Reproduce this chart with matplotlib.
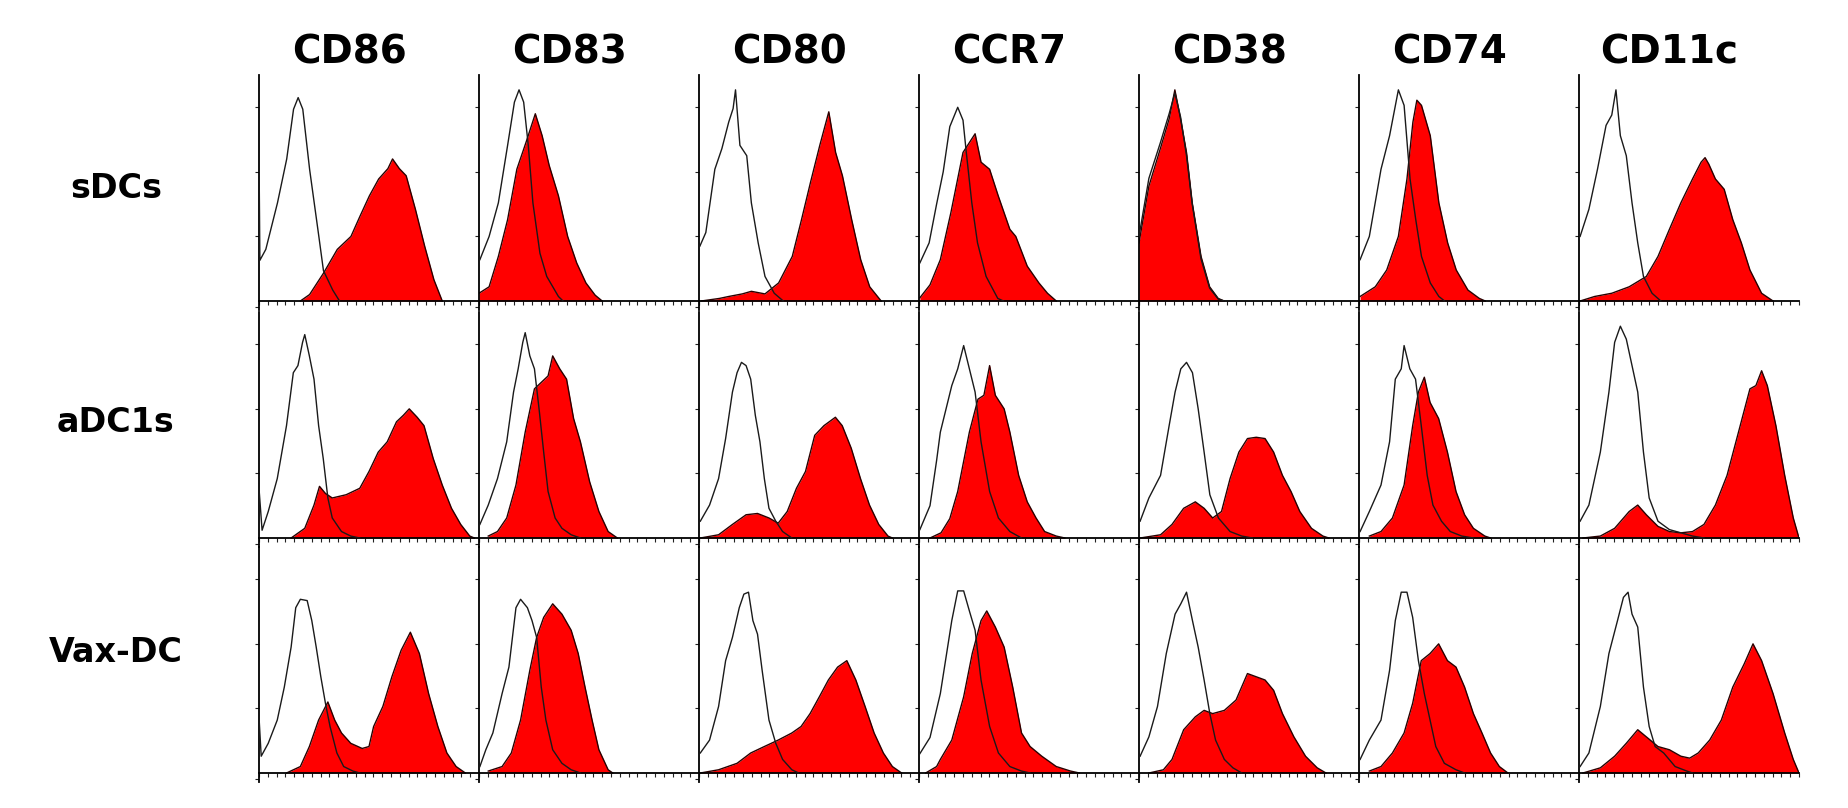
import numpy as np
import matplotlib
matplotlib.use("Agg")
from matplotlib import pyplot as plt

markers = ["CD86", "CD83", "CD80", "CCR7", "CD38", "CD74", "CD11c"]
cell_types = ["sDCs", "aDC1s", "Vax-DC"]

# each curve: (channel %, count) points
sdcs_isotype = [
    [(0, 229), (0.4, 63), (3.1, 80), (8.4, 152), (12.6, 220), (15.7, 297), (17.8, 315), (19.9, 297), (23, 204), (25.1, 152), (27.2, 100), (29.3, 47), (33.5, 17), (36.6, 0)],
    [(0.4, 64), (4.6, 100), (8.8, 152), (13, 241), (16.1, 308), (18.2, 327), (20.3, 308), (22.4, 241), (24.5, 152), (27.7, 74), (30.8, 38), (36.1, 7), (38.2, 0)],
    [(0.4, 85), (3.1, 106), (7.2, 204), (10.4, 236), (13.5, 277), (15.5, 298), (16.6, 327), (18.6, 241), (21.7, 225), (23.8, 152), (26.9, 90), (30, 38), (34.2, 12), (38.3, 0)],
    [(0.4, 59), (4.6, 90), (8, 150), (11, 200), (14, 270), (17.6, 300), (20, 280), (21.5, 230), (24, 152), (26.6, 90), (30.5, 38), (35.8, 4), (38.4, 0)],
    [(0, 100), (4.5, 190), (9.7, 245), (13.7, 290), (16.3, 322), (18.9, 285), (21.6, 225), (24.2, 150), (28.2, 65), (32.1, 20), (36, 3), (38.7, 0)],
    [(0.5, 64), (4.7, 100), (10, 204), (13.9, 256), (17.9, 327), (20.5, 303), (23.2, 189), (25.8, 126), (28.4, 69), (32.4, 28), (36.3, 7), (38.9, 0)],
    [(0.5, 100), (4.5, 142), (8.4, 204), (12.3, 272), (14.9, 288), (16.8, 327), (18.8, 256), (21.5, 225), (24.1, 152), (26.7, 90), (29.3, 38), (33.2, 12), (37.2, 0)],
]
sdcs_stained = [
    [(18.8, 0), (23, 10), (29.3, 43), (35.6, 80), (41.8, 100), (46, 132), (50.2, 163), (54.4, 189), (58.6, 205), (60.7, 220), (63.8, 205), (66.9, 194), (71.1, 142), (75.3, 85), (79.5, 33), (83.3, 0)],
    [(0, 12), (4.6, 22), (8.8, 69), (13, 126), (17.2, 204), (21.4, 246), (25.6, 290), (28.7, 256), (31.9, 210), (36.1, 163), (40.3, 100), (44.4, 59), (48.6, 28), (52.8, 9), (56, 0)],
    [(1, 0), (9.3, 4), (13.5, 7), (19.7, 11), (23.8, 15), (30, 11), (36.2, 28), (42.4, 69), (46.6, 126), (50.7, 184), (54.9, 241), (59, 293), (62.1, 230), (65.2, 194), (69.4, 126), (73.5, 64), (77.6, 22), (82.8, 0)],
    [(0.4, 5), (5, 25), (9.7, 64), (14.5, 137), (20, 230), (25.5, 259), (28.2, 215), (32.1, 204), (36, 163), (41.3, 111), (44, 100), (49.2, 54), (54.5, 28), (58.4, 12), (62.4, 0)],
    [(0, 90), (4.5, 178), (9.7, 236), (13.7, 282), (16.3, 327), (18.9, 282), (21.6, 230), (24.2, 152), (28.2, 69), (32.1, 22), (36, 4), (38.7, 0)],
    [(0.5, 7), (7.4, 22), (12.6, 48), (17.9, 100), (21.8, 189), (24.5, 277), (26.3, 311), (28.4, 303), (32.4, 256), (36.3, 152), (40.3, 90), (44.2, 48), (49.5, 17), (54.7, 4), (57.4, 0)],
    [(0.5, 0), (7.1, 7), (14.9, 12), (22.8, 22), (30.6, 38), (35.9, 69), (41.1, 111), (46.3, 152), (51.6, 189), (55.5, 215), (57.3, 222), (59, 212), (62, 189), (66, 173), (69.9, 126), (73.8, 90), (77.7, 48), (83, 12), (88.2, 0)],
]

adc1s_isotype = [
    [(0, 77), (1.4, 12), (4.2, 41), (8.3, 92), (12.5, 174), (15.6, 256), (17.7, 267), (19.8, 303), (20.8, 315), (22.9, 282), (25, 246), (27.1, 174), (29.2, 123), (31.3, 62), (33.3, 31), (37.5, 10), (41.7, 3), (45.8, 0)],
    [(0.4, 21), (4.2, 51), (8.4, 92), (12.6, 149), (15.7, 226), (17.8, 262), (19.9, 303), (21, 318), (23.1, 282), (25.2, 262), (27.3, 200), (29.4, 133), (31.4, 72), (34.6, 31), (37.7, 15), (41.9, 5), (46.1, 0)],
    [(0.6, 26), (4.8, 51), (8.9, 92), (12.1, 154), (15.2, 226), (17.3, 256), (19.3, 272), (21.4, 267), (23.5, 246), (25.6, 190), (27.7, 149), (29.7, 92), (31.8, 46), (34.9, 26), (38, 10), (42.2, 0)],
    [(0.4, 13), (5, 50), (8, 120), (9.7, 164), (14.9, 236), (17.6, 262), (20.3, 298), (22.9, 262), (25.5, 226), (28.2, 149), (32.1, 72), (36.1, 31), (41.3, 10), (46.6, 0)],
    [(0.5, 26), (4.5, 62), (9.8, 97), (13.7, 174), (16.4, 226), (19, 262), (21.6, 272), (24.3, 256), (26.9, 200), (29.6, 133), (32.2, 67), (36.1, 31), (41.4, 10), (46.7, 3), (51.5, 0)],
    [(0.5, 10), (4.7, 41), (10, 82), (13.9, 149), (16.5, 246), (19.2, 262), (20.5, 298), (23.1, 262), (25.7, 246), (28.3, 174), (31, 97), (33.6, 51), (37.5, 26), (41.5, 10), (46.7, 3), (52, 0)],
    [(0.5, 26), (4.5, 51), (9.7, 133), (13.6, 226), (16.2, 303), (18.8, 328), (21.5, 308), (24.1, 267), (26.7, 226), (29.3, 133), (31.9, 62), (35.9, 26), (41.1, 13), (46.3, 8), (51.6, 3), (56.8, 0)],
]
adc1s_stained = [
    [(14.6, 0), (20.8, 15), (25, 51), (27.5, 80), (30.2, 69), (33.3, 62), (39.6, 67), (45.8, 77), (50, 103), (54.2, 133), (58.3, 149), (62.5, 180), (65.6, 190), (68.3, 200), (71.9, 187), (75, 174), (79.2, 123), (83.3, 82), (87.5, 46), (91.7, 21), (95.8, 3), (97.9, 0)],
    [(4.2, 3), (8.4, 10), (12.6, 31), (16.8, 82), (21, 164), (25.2, 231), (28.3, 241), (31.4, 251), (33.5, 282), (36.7, 262), (39.8, 246), (43, 185), (46.1, 149), (50.3, 87), (54.5, 41), (58.7, 10), (62.9, 0)],
    [(0.6, 0), (8.9, 5), (15.2, 21), (21.4, 36), (26.6, 38), (31.8, 31), (36, 23), (40.1, 41), (44.3, 77), (48.4, 103), (52.6, 159), (56.8, 174), (62, 187), (65.1, 174), (69.2, 139), (73.4, 92), (77.5, 51), (81.7, 21), (85.9, 3), (87.9, 0)],
    [(5, 0), (10, 8), (14, 30), (17.6, 72), (22.9, 164), (26.8, 215), (29.5, 221), (32.1, 267), (34.7, 221), (38.7, 200), (41.3, 164), (45.3, 97), (49.2, 56), (53.2, 31), (57.1, 10), (62.4, 3), (66.3, 0)],
    [(0.5, 0), (9.8, 5), (15, 21), (20.3, 46), (25.6, 56), (29.6, 46), (33.5, 31), (37.5, 41), (41.4, 92), (45.4, 133), (49.3, 154), (53.3, 156), (57.3, 154), (61.2, 133), (65.2, 97), (69.1, 72), (73.1, 41), (78.4, 15), (83.6, 3), (86.3, 0)],
    [(4.7, 3), (10, 10), (15.2, 31), (20.5, 82), (24.4, 174), (27, 226), (29.7, 249), (32.3, 210), (36.2, 185), (40.2, 133), (44.1, 72), (48, 36), (52, 15), (57.2, 3), (59.8, 0)],
    [(1.8, 0), (9.7, 3), (16.2, 15), (22.8, 41), (26.7, 51), (30.6, 36), (35.9, 18), (41.1, 10), (46.3, 8), (51.6, 10), (56.8, 21), (62, 51), (67.3, 97), (72.5, 164), (77.7, 231), (80.4, 236), (83, 259), (85.6, 236), (89.5, 174), (93.5, 97), (97.4, 31), (100, 0)],
]

vaxdc_isotype = [
    [(0, 87), (1, 26), (4.2, 46), (8.3, 82), (11.5, 133), (14.6, 195), (16.7, 256), (18.8, 269), (21.9, 267), (24, 236), (26, 195), (28.1, 149), (30.2, 108), (32.3, 72), (35.4, 31), (38.5, 10), (42.7, 3), (45.8, 0)],
    [(0.4, 10), (3.1, 36), (6.3, 62), (10.5, 123), (13.6, 164), (16.8, 256), (18.9, 269), (22, 256), (24.1, 236), (26.2, 210), (28.3, 133), (30.4, 82), (33.5, 36), (37.7, 15), (41.9, 5), (46.1, 0)],
    [(0.6, 31), (4.8, 51), (8.9, 103), (12.1, 174), (15.2, 210), (18.3, 256), (20.4, 277), (22.5, 280), (24.5, 236), (26.6, 215), (28.7, 159), (31.8, 82), (34.9, 46), (38, 21), (42.2, 5), (45.3, 0)],
    [(0.4, 30), (5, 55), (9.7, 123), (14.9, 236), (17.6, 282), (20.3, 282), (22.9, 251), (25.5, 221), (28.2, 144), (32.1, 72), (36.1, 31), (41.3, 10), (46.6, 3), (50.5, 0)],
    [(0.5, 26), (4.5, 56), (8.4, 103), (12.4, 185), (16.4, 246), (19, 262), (21.6, 280), (24.3, 236), (26.9, 195), (29.6, 144), (32.2, 92), (34.8, 51), (38.8, 21), (42.7, 8), (46.7, 0)],
    [(0.5, 21), (4.7, 51), (10, 82), (13.9, 159), (16.5, 236), (19.2, 280), (21.8, 280), (24.4, 241), (27, 174), (29.7, 123), (32.3, 82), (34.9, 41), (38.8, 15), (44.1, 5), (48, 0)],
    [(0.5, 10), (4.5, 31), (9.7, 103), (13.6, 185), (17.5, 236), (20.2, 272), (22.3, 280), (24.1, 246), (26.7, 226), (29.3, 133), (31.9, 72), (34.6, 41), (38.5, 31), (43.7, 10), (49, 3), (51.6, 0)],
]
vaxdc_stained = [
    [(12.5, 0), (18.8, 10), (22.9, 41), (27.1, 82), (31.3, 110), (34.4, 82), (37.5, 62), (41.7, 46), (46.9, 38), (50, 41), (52.1, 72), (56.3, 103), (60.4, 149), (64.6, 190), (68.8, 218), (72.9, 185), (77.1, 123), (81.3, 72), (85.4, 31), (89.6, 10), (93.8, 0)],
    [(4.2, 3), (10.5, 10), (14.7, 31), (18.9, 82), (23.1, 159), (26.2, 210), (29.4, 241), (33.5, 262), (37.7, 246), (41.9, 221), (45.1, 185), (48.2, 133), (51.4, 82), (54.5, 36), (58.7, 5), (60.8, 0)],
    [(0.6, 0), (8.9, 5), (17.3, 15), (23.5, 31), (29.7, 41), (36, 51), (42.2, 62), (46.4, 72), (50.5, 92), (54.7, 118), (58.8, 144), (63, 164), (67.2, 174), (71.3, 144), (75.5, 103), (79.6, 62), (83.8, 31), (87.9, 10), (92.1, 0)],
    [(3, 0), (8, 10), (9.7, 21), (14.9, 51), (20.3, 118), (24.2, 185), (28.2, 236), (30.8, 251), (34.7, 226), (38.7, 195), (42.6, 133), (46.6, 62), (50.5, 41), (55.8, 26), (62.4, 10), (68.9, 3), (72.9, 0)],
    [(4.5, 0), (11.1, 5), (15, 21), (20.3, 67), (25.6, 87), (29.6, 97), (33.5, 92), (38.8, 97), (44.1, 113), (49.3, 154), (53.3, 149), (57.3, 144), (61.2, 128), (65.2, 92), (70.4, 56), (75.7, 26), (81, 8), (85, 0)],
    [(4.7, 3), (10, 10), (15.2, 31), (20.5, 62), (24.4, 108), (28.3, 174), (32.3, 185), (36.2, 200), (40.2, 174), (44.1, 164), (48, 133), (52, 92), (55.9, 62), (59.8, 31), (63.8, 10), (67.7, 0)],
    [(1.8, 0), (9.7, 8), (16.2, 26), (21.5, 46), (26.7, 67), (30.6, 56), (35.9, 41), (41.1, 36), (46.3, 26), (50.3, 23), (54.2, 31), (59.4, 51), (64.7, 82), (69.9, 133), (75.1, 169), (79.1, 200), (83, 174), (88.2, 123), (93.5, 62), (97.4, 21), (100, 0)],
]

rows = [
    (sdcs_isotype, sdcs_stained),
    (adc1s_isotype, adc1s_stained),
    (vaxdc_isotype, vaxdc_stained),
]

W, H = 1848, 808
fig = plt.figure(figsize=(W / 100, H / 100), dpi=100)

panel_left = 259      # px, left spine of first column
panel_w = 220         # px
panel_h = 226         # px, baseline to top of spine
row_base = [301, 538, 773]
label_y = [189, 422, 652]
y_top = 350
y_low = -14
pad = panel_h * (-y_low) / y_top

for r, (iso_row, red_row) in enumerate(rows):
    for c, marker in enumerate(markers):
        left = panel_left + c * panel_w
        ax = fig.add_axes([left / W, (H - row_base[r] - pad) / H,
                           panel_w / W, (panel_h + pad) / H])

        rx, ry = np.array(red_row[c]).T
        ax.fill_between(rx, ry, 0, color="#ff0000", lw=0, zorder=1)
        ax.plot(rx, ry, color="#2a0000", lw=1.0, zorder=2)

        ix, iy = np.array(iso_row[c]).T
        ax.plot(ix, iy, color="#1a1a1a", lw=1.0, zorder=3)

        ax.set_xlim(0, 100)
        ax.set_ylim(y_low, y_top)
        for s in ["top", "right"]:
            ax.spines[s].set_visible(False)
        ax.spines["bottom"].set_position(("data", 0))
        ax.spines["bottom"].set_linewidth(1.3)
        ax.spines["left"].set_linewidth(1.3)
        ax.set_xticks(np.arange(0, 101, 4))
        ax.set_yticks([-10, 100, 200, 300])
        ax.set_xticklabels([])
        ax.set_yticklabels([])
        ax.tick_params(axis="both", length=3, width=0.8, direction="out", color="#222222")
        ax.patch.set_alpha(0)

        if r == 0:
            fig.text((left + panel_w * 0.41) / W, 1 - 52 / H, marker,
                     ha="center", va="center", fontsize=28, fontweight="bold")

    fig.text(116 / W, 1 - label_y[r] / H, cell_types[r],
             ha="center", va="center", fontsize=24, fontweight="bold")

fig.savefig("out.png", dpi=100, facecolor="white")
